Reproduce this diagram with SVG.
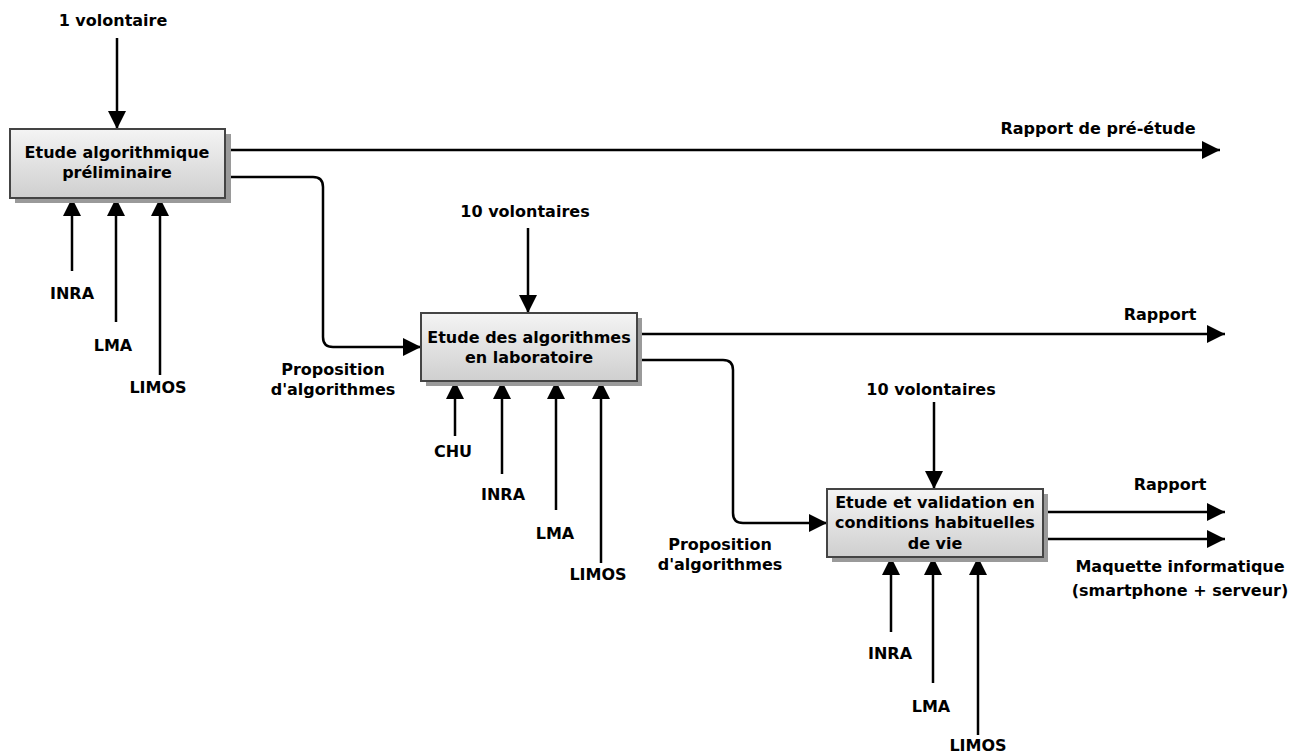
<svg xmlns="http://www.w3.org/2000/svg" width="1303" height="753" viewBox="0 0 1303 753">
<defs>
<linearGradient id="g" x1="0" y1="0" x2="0" y2="1">
<stop offset="0" stop-color="#f4f4f4"/>
<stop offset="1" stop-color="#cfcfcf"/>
</linearGradient>
<marker id="ah" viewBox="0 0 18 18" refX="18" refY="9" markerWidth="18" markerHeight="18" markerUnits="userSpaceOnUse" orient="auto">
<path d="M0,0 L18,9 L0,18 Z" fill="#000"/>
</marker>
</defs>
<style>
text{font-family:"DejaVu Sans",Verdana,sans-serif;font-weight:bold;font-size:16px;fill:#000;text-anchor:middle}
.box{fill:url(#g);stroke:#444;stroke-width:2}
.sh{fill:#9a9a9a}
.c{fill:none;stroke:#000;stroke-width:2.5;marker-end:url(#ah)}
</style>
<rect width="1303" height="753" fill="#fff"/>
<g id="connectors">
<path class="c" d="M117,38 V129"/>
<path class="c" d="M225,150 H1220"/>
<path class="c" d="M225,177 H313 Q323,177 323,187 V337 Q323,347 333,347 H421"/>
<path class="c" d="M72,271 V198"/>
<path class="c" d="M116,322 V198"/>
<path class="c" d="M160,375 V198"/>
<path class="c" d="M528,228 V313"/>
<path class="c" d="M637,334 H1225"/>
<path class="c" d="M637,360 H723 Q733,360 733,370 V513 Q733,523 743,523 H827"/>
<path class="c" d="M455,436 V381"/>
<path class="c" d="M502,474 V381"/>
<path class="c" d="M556,510 V381"/>
<path class="c" d="M601,563 V381"/>
<path class="c" d="M934,402 V489"/>
<path class="c" d="M1043,512 H1225"/>
<path class="c" d="M1043,539 H1225"/>
<path class="c" d="M891,632 V557"/>
<path class="c" d="M933,683 V557"/>
<path class="c" d="M978,735 V557"/>
</g>
<g id="n1">
<rect class="sh" x="15" y="134" width="216" height="69"/>
<rect class="box" x="10" y="129" width="215" height="69"/>
<text x="117" y="158">Etude algorithmique</text>
<text x="117" y="178">préliminaire</text>
</g>
<g id="n2">
<rect class="sh" x="426" y="318" width="216" height="68"/>
<rect class="box" x="421" y="313" width="216" height="68"/>
<text x="529" y="343">Etude des algorithmes</text>
<text x="529" y="363">en laboratoire</text>
</g>
<g id="n3">
<rect class="sh" x="832" y="494" width="216" height="68"/>
<rect class="box" x="827" y="489" width="216" height="68"/>
<text x="935" y="508">Etude et validation en</text>
<text x="935" y="528">conditions habituelles</text>
<text x="935" y="549">de vie</text>
</g>
<g id="labels">
<text x="113" y="26">1 volontaire</text>
<text x="1098" y="134">Rapport de pré-étude</text>
<text x="72" y="299">INRA</text>
<text x="113" y="351">LMA</text>
<text x="158" y="393">LIMOS</text>
<text x="333" y="375">Proposition</text>
<text x="333" y="395">d'algorithmes</text>
<text x="525" y="217">10 volontaires</text>
<text x="1160" y="320">Rapport</text>
<text x="453" y="457">CHU</text>
<text x="503" y="500">INRA</text>
<text x="555" y="539">LMA</text>
<text x="598" y="580">LIMOS</text>
<text x="720" y="550">Proposition</text>
<text x="720" y="570">d'algorithmes</text>
<text x="931" y="395">10 volontaires</text>
<text x="1170" y="490">Rapport</text>
<text x="1180" y="572">Maquette informatique</text>
<text x="1180" y="596">(smartphone + serveur)</text>
<text x="890" y="659">INRA</text>
<text x="931" y="712">LMA</text>
<text x="978" y="751">LIMOS</text>
</g>
</svg>
